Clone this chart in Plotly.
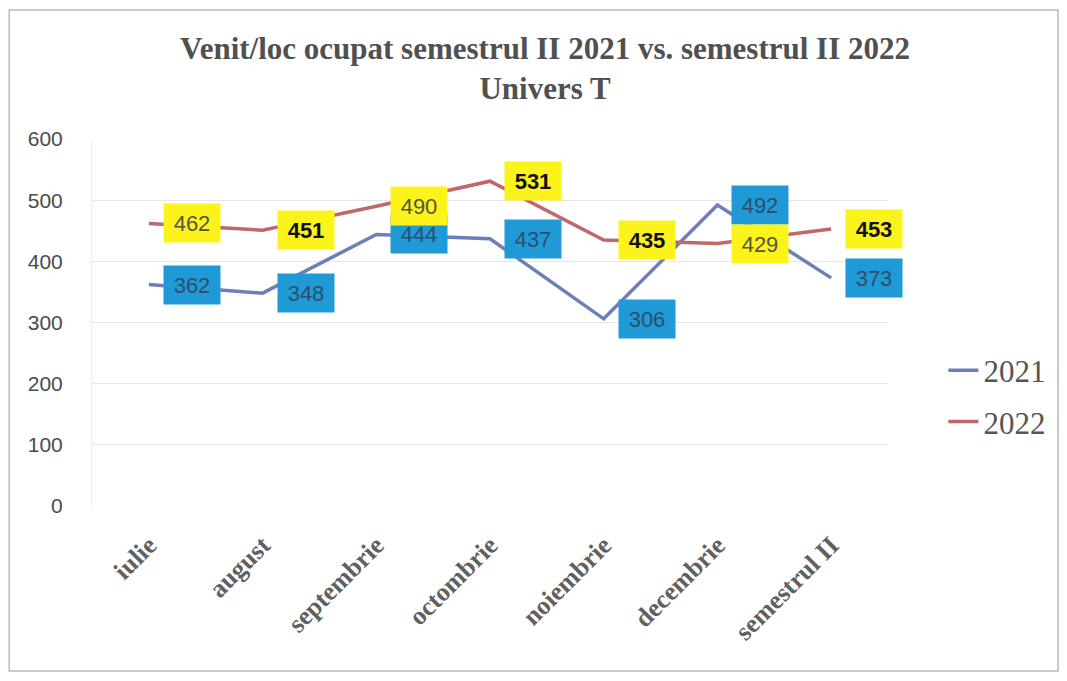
import plotly.graph_objects as go

categories = ["iulie", "august", "septembrie", "octombrie", "noiembrie", "decembrie", "semestrul II"]
values_2021 = [362, 348, 444, 437, 306, 492, 373]
values_2022 = [462, 451, 490, 531, 435, 429, 453]
y_ticks = [0, 100, 200, 300, 400, 500, 600]

# styling (not data)
color_2021 = "#6b80b8"
color_2022 = "#c0676a"
dark_label_2022 = [False, True, False, True, True, False, True]

fig = go.Figure()
fig.add_trace(go.Scatter(x=categories, y=values_2021, mode="lines", name="2021",
                         line=dict(color=color_2021, width=3.5), legendgroup="a"))
fig.add_trace(go.Scatter(x=categories, y=values_2022, mode="lines", name="2022",
                         line=dict(color=color_2022, width=3.5), legendgroup="b"))

annotations = []
for c, v in zip(categories, values_2021):
    annotations.append(dict(x=c, y=v, xref="x", yref="y", text=str(v), showarrow=False,
                            xshift=43, bgcolor="#1f9ad6", width=50, height=32, borderpad=3,
                            font=dict(family="Liberation Sans", size=22, color="#2d4e6e")))
for c, v, dk in zip(categories, values_2022, dark_label_2022):
    annotations.append(dict(x=c, y=v, xref="x", yref="y",
                            text=(f"<b>{v}</b>" if dk else str(v)), showarrow=False,
                            xshift=43, bgcolor="#fbf31a", width=50, height=32, borderpad=3,
                            font=dict(family="Liberation Sans", size=22,
                                      color="#111111" if dk else "#555544")))

fig.update_layout(
    width=1051, height=665,
    margin=dict(l=84, r=171, t=131, b=167),
    paper_bgcolor="white", plot_bgcolor="white",
    title=dict(text="<b>Venit/loc ocupat semestrul II 2021 vs. semestrul II 2022<br>Univers T</b>",
               x=0.511, xanchor="center", y=0.924, yanchor="middle",
               font=dict(family="Liberation Serif", size=31, color="#505050")),
    xaxis=dict(range=[-0.5, 6.5], showgrid=False, tickangle=-45, ticks="",
               ticklabelstandoff=18,
               tickfont=dict(family="Liberation Serif", size=26, color="#606060", weight="bold"),
               showline=False, zeroline=False),
    yaxis=dict(range=[0, 600], tickvals=y_ticks, showgrid=True, gridcolor="#e6e6e6",
               gridwidth=1, zeroline=False, ticks="", ticklabelstandoff=24,
               tickfont=dict(family="Liberation Sans", size=21, color="#4a4a4a"),
               showline=True, linecolor="#eeeeee"),
    legend=dict(x=0.89, xref="container", xanchor="left", y=0.4165, yref="container",
                yanchor="middle", font=dict(family="Liberation Serif", size=31, color="#555555"),
                tracegroupgap=8, bgcolor="rgba(0,0,0,0)"),
    annotations=annotations,
    shapes=[dict(type="rect", xref="paper", yref="paper", x0=-0.104, x1=1.2136, y0=-0.4496, y1=1.3515,
                 line=dict(color="#bbbbbb", width=1.5))],
)

fig.write_html("out.html")
